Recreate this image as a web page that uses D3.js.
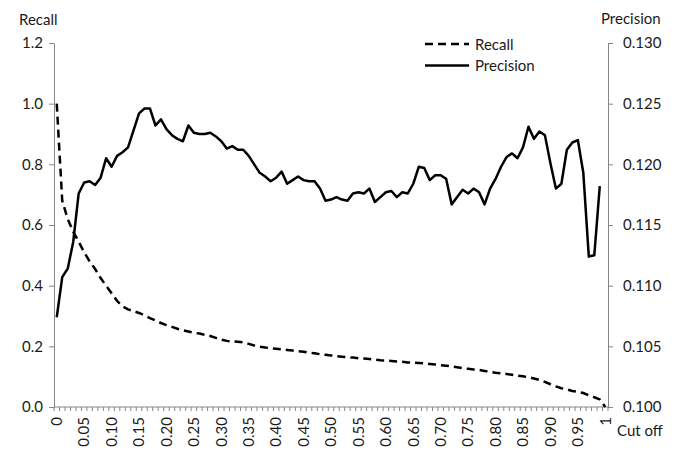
<!DOCTYPE html>
<html>
<head>
<meta charset="utf-8">
<script src="https://cdn.jsdelivr.net/npm/d3@7"></script>
<style>
  html, body { margin: 0; padding: 0; background: #fff; }
  svg { display: block; }
  text { font-family: Lato, "Open Sans", "Liberation Sans", sans-serif; fill: #1a1a1a; }
</style>
</head>
<body>
<svg id="chart" width="679" height="461"></svg>
<script>
// ---- data ----
const cutoffs = d3.range(101).map(i => i / 100);   // categories 0.00 .. 1.00
const cutoffLabels = ["0","0.05","0.10","0.15","0.20","0.25","0.30","0.35","0.40","0.45","0.50",
                      "0.55","0.60","0.65","0.70","0.75","0.80","0.85","0.90","0.95","1"];
const recallTicks = [0, 0.2, 0.4, 0.6, 0.8, 1.0, 1.2];
const precisionTicks = [0.100, 0.105, 0.110, 0.115, 0.120, 0.125, 0.130];

const recall = [
  1.000, 0.680, 0.620, 0.578, 0.545, 0.510, 0.480, 0.455, 0.425, 0.400,
  0.375, 0.350, 0.332, 0.322, 0.316, 0.310, 0.302, 0.293, 0.285, 0.277,
  0.270, 0.264, 0.258, 0.253, 0.249, 0.245, 0.242, 0.238, 0.234, 0.228,
  0.222, 0.218, 0.216, 0.215, 0.213, 0.208, 0.203, 0.199, 0.196, 0.194,
  0.192, 0.190, 0.188, 0.186, 0.184, 0.182, 0.179, 0.177, 0.174, 0.172,
  0.170, 0.168, 0.166, 0.164, 0.163, 0.161, 0.160, 0.158, 0.156, 0.154,
  0.153, 0.152, 0.150, 0.149, 0.147, 0.146, 0.145, 0.144, 0.142, 0.140,
  0.138, 0.136, 0.134, 0.131, 0.128, 0.126, 0.124, 0.122, 0.119, 0.116,
  0.113, 0.111, 0.109, 0.106, 0.103, 0.101, 0.098, 0.094, 0.089, 0.083,
  0.075, 0.068, 0.062, 0.058, 0.053, 0.050, 0.046, 0.038, 0.032, 0.025,
  0.000
];

const precision = [
  0.1074, 0.1107, 0.1114, 0.1136, 0.1176, 0.1185, 0.1186, 0.1183, 0.1189, 0.1205,
  0.1198, 0.1207, 0.1210, 0.1214, 0.1228, 0.1242, 0.1246, 0.1246, 0.1232, 0.1237,
  0.1229, 0.1224, 0.1221, 0.1219, 0.1232, 0.1226, 0.1225, 0.1225, 0.1226, 0.1223,
  0.1219, 0.1213, 0.1215, 0.1212, 0.1212, 0.1207, 0.1200, 0.1193, 0.1190, 0.1186,
  0.1189, 0.1194, 0.1184, 0.1187, 0.1190, 0.1187, 0.1186, 0.1186, 0.1180, 0.1170,
  0.1171, 0.1173, 0.1171, 0.1170, 0.1176, 0.1177, 0.1176, 0.1180, 0.1169, 0.1173,
  0.1177, 0.1178, 0.1173, 0.1177, 0.1176, 0.1184, 0.1198, 0.1197, 0.1187, 0.1191,
  0.1191, 0.1188, 0.1167, 0.1173, 0.1179, 0.1176, 0.1180, 0.1177, 0.1167, 0.1180,
  0.1188, 0.1198, 0.1206, 0.1209, 0.1205, 0.1214, 0.1231, 0.1221, 0.1227, 0.1224,
  0.1201, 0.1180, 0.1184, 0.1212, 0.1218, 0.1220, 0.1193, 0.1124, 0.1125, 0.1182
];

// ---- layout ----
const svg = d3.select("#chart");
const plotL = 54, plotR = 608, plotT = 43, plotB = 407;
const axisColor = "#868686";

const x = d3.scaleBand().domain(cutoffs.map((d, i) => i)).range([plotL, plotR]).padding(0);
const cx = i => x(i) + x.bandwidth() / 2;
const yL = d3.scaleLinear().domain([0, 1.2]).range([plotB, plotT]);
const yR = d3.scaleLinear().domain([0.100, 0.130]).range([plotB, plotT]);

// left axis
const gL = svg.append("g").attr("transform", `translate(${plotL},0)`)
  .call(d3.axisLeft(yL).tickValues(recallTicks).tickFormat(d3.format(".1f"))
        .tickSize(5).tickSizeOuter(0).tickPadding(6));
// right axis
const gR = svg.append("g").attr("transform", `translate(${plotR},0)`)
  .call(d3.axisRight(yR).tickValues(precisionTicks).tickFormat(d3.format(".3f"))
        .tickSize(5).tickSizeOuter(0).tickPadding(10));
[gL, gR].forEach(g => {
  g.select(".domain").attr("stroke", axisColor);
  g.selectAll(".tick line").attr("stroke", axisColor);
  g.selectAll(".tick text").style("font-size", "15px").attr("fill", "#1a1a1a")
    .style("font-family", 'Lato, "Open Sans", sans-serif');
});

// bottom axis line + ticks between categories
svg.append("line").attr("x1", plotL).attr("x2", plotR).attr("y1", plotB).attr("y2", plotB)
  .attr("stroke", axisColor);
const boundaries = cutoffs.map((d, i) => x(i)).concat([x.range()[1]]);
svg.append("g").selectAll("line").data(boundaries).join("line")
  .attr("x1", d => d).attr("x2", d => d).attr("y1", plotB).attr("y2", plotB + 4)
  .attr("stroke", axisColor);

// bottom labels (rotated)
const labelIdx = cutoffLabels.map(l => Math.round(parseFloat(l) * 100));
svg.append("g").selectAll("text").data(cutoffLabels).join("text")
  .attr("transform", (d, k) => `translate(${cx(labelIdx[k])},${plotB + 10}) rotate(-90)`)
  .attr("text-anchor", "end").attr("dy", "0.35em")
  .style("font-size", "15px").text(d => d);

// titles
svg.append("text").attr("x", 19).attr("y", 25).style("font-size", "15px").text("Recall");
svg.append("text").attr("x", 601).attr("y", 23.5).style("font-size", "15px").text("Precision");
svg.append("text").attr("x", 617).attr("y", 436).style("font-size", "15px").text("Cut off");

// lines
const recallLine = d3.line().x((d, i) => cx(i)).y(d => yL(d));
const precLine = d3.line().x((d, i) => cx(i)).y(d => yR(d));
svg.append("path").datum(recall).attr("d", recallLine).attr("fill", "none")
  .attr("stroke", "#000").attr("stroke-width", 2.5).attr("stroke-dasharray", "8,5");
svg.append("path").datum(precision).attr("d", precLine).attr("fill", "none")
  .attr("stroke", "#000").attr("stroke-width", 2.5).attr("stroke-linejoin", "round");

// legend
const legend = [
  { name: "Recall", dash: "8,5", y: 44 },
  { name: "Precision", dash: null, y: 65.5 }
];
const lg = svg.append("g");
lg.selectAll("line").data(legend).join("line")
  .attr("x1", 425).attr("x2", 469).attr("y1", d => d.y).attr("y2", d => d.y)
  .attr("stroke", "#000").attr("stroke-width", 2.5)
  .attr("stroke-dasharray", d => d.dash);
lg.selectAll("text").data(legend).join("text")
  .attr("x", 475).attr("y", d => d.y + 5.5).style("font-size", "15px").text(d => d.name);
</script>
</body>
</html>
